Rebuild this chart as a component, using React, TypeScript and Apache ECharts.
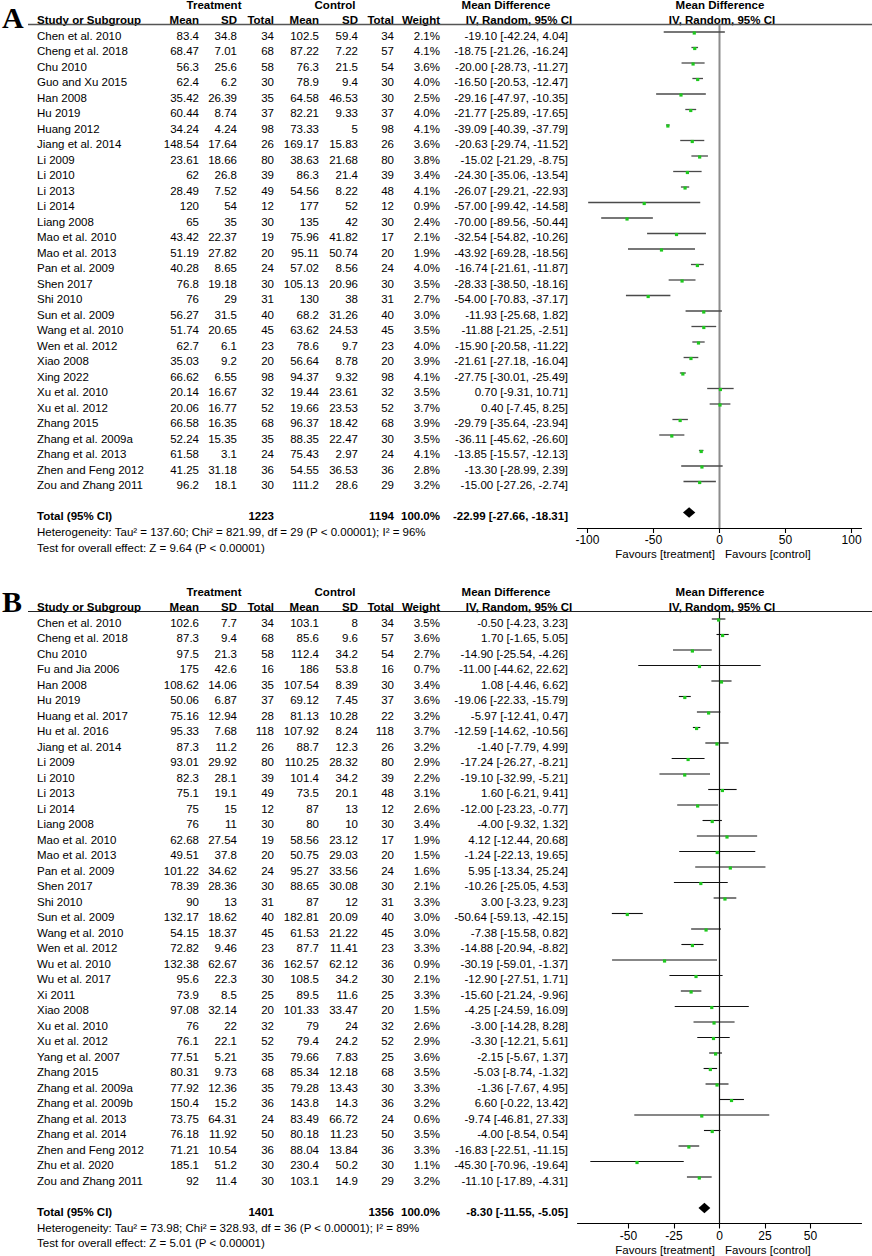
import React, { useEffect, useRef } from "react";
import * as echarts from "echarts";

// ---------------- Panel A data ----------------
const studiesA = [
  "Chen et al. 2010", "Cheng et al. 2018", "Chu 2010", "Guo and Xu 2015", "Han 2008", "Hu 2019",
  "Huang 2012", "Jiang et al. 2014", "Li 2009", "Li 2010", "Li 2013", "Li 2014", "Liang 2008",
  "Mao et al. 2010", "Mao et al. 2013", "Pan et al. 2009", "Shen 2017", "Shi 2010", "Sun et al. 2009",
  "Wang et al. 2010", "Wen et al. 2012", "Xiao 2008", "Xing 2022", "Xu et al. 2010", "Xu et al. 2012",
  "Zhang 2015", "Zhang et al. 2009a", "Zhang et al. 2013", "Zhen and Feng 2012", "Zou and Zhang 2011",
];
const tMeanA = [83.4, 68.47, 56.3, 62.4, 35.42, 60.44, 34.24, 148.54, 23.61, 62, 28.49, 120, 65, 43.42, 51.19, 40.28, 76.8, 76, 56.27, 51.74, 62.7, 35.03, 66.62, 20.14, 20.06, 66.58, 52.24, 61.58, 41.25, 96.2];
const tSdA = [34.8, 7.01, 25.6, 6.2, 26.39, 8.74, 4.24, 17.64, 18.66, 26.8, 7.52, 54, 35, 22.37, 27.82, 8.65, 19.18, 29, 31.5, 20.65, 6.1, 9.2, 6.55, 16.67, 16.77, 16.35, 15.35, 3.1, 31.18, 18.1];
const tNA = [34, 68, 58, 30, 35, 37, 98, 26, 80, 39, 49, 12, 30, 19, 20, 24, 30, 31, 40, 45, 23, 20, 98, 32, 52, 68, 35, 24, 36, 30];
const cMeanA = [102.5, 87.22, 76.3, 78.9, 64.58, 82.21, 73.33, 169.17, 38.63, 86.3, 54.56, 177, 135, 75.96, 95.11, 57.02, 105.13, 130, 68.2, 63.62, 78.6, 56.64, 94.37, 19.44, 19.66, 96.37, 88.35, 75.43, 54.55, 111.2];
const cSdA = [59.4, 7.22, 21.5, 9.4, 46.53, 9.33, 5, 15.83, 21.68, 21.4, 8.22, 52, 42, 41.82, 50.74, 8.56, 20.96, 38, 31.26, 24.53, 9.7, 8.78, 9.32, 23.61, 23.53, 18.42, 22.47, 2.97, 36.53, 28.6];
const cNA = [34, 57, 54, 30, 30, 37, 98, 26, 80, 39, 48, 12, 30, 17, 20, 24, 30, 31, 40, 45, 23, 20, 98, 32, 52, 68, 30, 24, 36, 29];
const weightA = [2.1, 4.1, 3.6, 4.0, 2.5, 4.0, 4.1, 3.6, 3.8, 3.4, 4.1, 0.9, 2.4, 2.1, 1.9, 4.0, 3.5, 2.7, 3.0, 3.5, 4.0, 3.9, 4.1, 3.5, 3.7, 3.9, 3.5, 4.1, 2.8, 3.2];
const mdA = [-19.1, -18.75, -20.0, -16.5, -29.16, -21.77, -39.09, -20.63, -15.02, -24.3, -26.07, -57.0, -70.0, -32.54, -43.92, -16.74, -28.33, -54.0, -11.93, -11.88, -15.9, -21.61, -27.75, 0.7, 0.4, -29.79, -36.11, -13.85, -13.3, -15.0];
const loA = [-42.24, -21.26, -28.73, -20.53, -47.97, -25.89, -40.39, -29.74, -21.29, -35.06, -29.21, -99.42, -89.56, -54.82, -69.28, -21.61, -38.5, -70.83, -25.68, -21.25, -20.58, -27.18, -30.01, -9.31, -7.45, -35.64, -45.62, -15.57, -28.99, -27.26];
const hiA = [4.04, -16.24, -11.27, -12.47, -10.35, -17.65, -37.79, -11.52, -8.75, -13.54, -22.93, -14.58, -50.44, -10.26, -18.56, -11.87, -18.16, -37.17, 1.82, -2.51, -11.22, -16.04, -25.49, 10.71, 8.25, -23.94, -26.6, -12.13, 2.39, -2.74];
const totalA = [1223, 1194, 100.0, -22.99, -27.66, -18.31];
const hetA = "Heterogeneity: Tau\u00b2 = 137.60; Chi\u00b2 = 821.99, df = 29 (P < 0.00001); I\u00b2 = 96%";
const testA = "Test for overall effect: Z = 9.64 (P < 0.00001)";
const ticksA = [-100, -50, 0, 50, 100];

// ---------------- Panel B data ----------------
const studiesB = [
  "Chen et al. 2010", "Cheng et al. 2018", "Chu 2010", "Fu and Jia 2006", "Han 2008", "Hu 2019",
  "Huang et al. 2017", "Hu et al. 2016", "Jiang et al. 2014", "Li 2009", "Li 2010", "Li 2013", "Li 2014",
  "Liang 2008", "Mao et al. 2010", "Mao et al. 2013", "Pan et al. 2009", "Shen 2017", "Shi 2010",
  "Sun et al. 2009", "Wang et al. 2010", "Wen et al. 2012", "Wu et al. 2010", "Wu et al. 2017", "Xi 2011",
  "Xiao 2008", "Xu et al. 2010", "Xu et al. 2012", "Yang et al. 2007", "Zhang 2015", "Zhang et al. 2009a",
  "Zhang et al. 2009b", "Zhang et al. 2013", "Zhang et al. 2014", "Zhen and Feng 2012", "Zhu et al. 2020",
  "Zou and Zhang 2011",
];
const tMeanB = [102.6, 87.3, 97.5, 175, 108.62, 50.06, 75.16, 95.33, 87.3, 93.01, 82.3, 75.1, 75, 76, 62.68, 49.51, 101.22, 78.39, 90, 132.17, 54.15, 72.82, 132.38, 95.6, 73.9, 97.08, 76, 76.1, 77.51, 80.31, 77.92, 150.4, 73.75, 76.18, 71.21, 185.1, 92];
const tSdB = [7.7, 9.4, 21.3, 42.6, 14.06, 6.87, 12.94, 7.68, 11.2, 29.92, 28.1, 19.1, 15, 11, 27.54, 37.8, 34.62, 28.36, 13, 18.62, 18.37, 9.46, 62.67, 22.3, 8.5, 32.14, 22, 22.1, 5.21, 9.73, 12.36, 15.2, 64.31, 11.92, 10.54, 51.2, 11.4];
const tNB = [34, 68, 58, 16, 35, 37, 28, 118, 26, 80, 39, 49, 12, 30, 19, 20, 24, 30, 31, 40, 45, 23, 36, 30, 25, 20, 32, 52, 35, 68, 35, 36, 24, 50, 36, 30, 30];
const cMeanB = [103.1, 85.6, 112.4, 186, 107.54, 69.12, 81.13, 107.92, 88.7, 110.25, 101.4, 73.5, 87, 80, 58.56, 50.75, 95.27, 88.65, 87, 182.81, 61.53, 87.7, 162.57, 108.5, 89.5, 101.33, 79, 79.4, 79.66, 85.34, 79.28, 143.8, 83.49, 80.18, 88.04, 230.4, 103.1];
const cSdB = [8, 9.6, 34.2, 53.8, 8.39, 7.45, 10.28, 8.24, 12.3, 28.32, 34.2, 20.1, 13, 10, 23.12, 29.03, 33.56, 30.08, 12, 20.09, 21.22, 11.41, 62.12, 34.2, 11.6, 33.47, 24, 24.2, 7.83, 12.18, 13.43, 14.3, 66.72, 11.23, 13.84, 50.2, 14.9];
const cNB = [34, 57, 54, 16, 30, 37, 22, 118, 26, 80, 39, 48, 12, 30, 17, 20, 24, 30, 31, 40, 45, 23, 36, 30, 25, 20, 32, 52, 25, 68, 30, 36, 24, 50, 36, 30, 29];
const weightB = [3.5, 3.6, 2.7, 0.7, 3.4, 3.6, 3.2, 3.7, 3.2, 2.9, 2.2, 3.1, 2.6, 3.4, 1.9, 1.5, 1.6, 2.1, 3.3, 3.0, 3.0, 3.3, 0.9, 2.1, 3.3, 1.5, 2.6, 2.9, 3.6, 3.5, 3.3, 3.2, 0.6, 3.5, 3.3, 1.1, 3.2];
const mdB = [-0.5, 1.7, -14.9, -11.0, 1.08, -19.06, -5.97, -12.59, -1.4, -17.24, -19.1, 1.6, -12.0, -4.0, 4.12, -1.24, 5.95, -10.26, 3.0, -50.64, -7.38, -14.88, -30.19, -12.9, -15.6, -4.25, -3.0, -3.3, -2.15, -5.03, -1.36, 6.6, -9.74, -4.0, -16.83, -45.3, -11.1];
const loB = [-4.23, -1.65, -25.54, -44.62, -4.46, -22.33, -12.41, -14.62, -7.79, -26.27, -32.99, -6.21, -23.23, -9.32, -12.44, -22.13, -13.34, -25.05, -3.23, -59.13, -15.58, -20.94, -59.01, -27.51, -21.24, -24.59, -14.28, -12.21, -5.67, -8.74, -7.67, -0.22, -46.81, -8.54, -22.51, -70.96, -17.89];
const hiB = [3.23, 5.05, -4.26, 22.62, 6.62, -15.79, 0.47, -10.56, 4.99, -8.21, -5.21, 9.41, -0.77, 1.32, 20.68, 19.65, 25.24, 4.53, 9.23, -42.15, 0.82, -8.82, -1.37, 1.71, -9.96, 16.09, 8.28, 5.61, 1.37, -1.32, 4.95, 13.42, 27.33, 0.54, -11.15, -19.64, -4.31];
const totalB = [1401, 1356, 100.0, -8.3, -11.55, -5.05];
const hetB = "Heterogeneity: Tau\u00b2 = 73.98; Chi\u00b2 = 328.93, df = 36 (P < 0.00001); I\u00b2 = 89%";
const testB = "Test for overall effect: Z = 5.01 (P < 0.00001)";
const ticksB = [-50, -25, 0, 25, 50];

// ---------------- Layout / styles ----------------
const STEP = 15.5;
const FONT = '"Liberation Sans", Arial, sans-serif';
const SIZE = 11.5;
const COL_RIGHT = [199, 237, 274, 319, 358, 394, 440, 568];
const PLOT_LEFT = 577.5;
const PLOT_WIDTH = 284;

const panels = [
  {
    letter: "A", letterY: 17, y0: 35.5, studies: studiesA, tMean: tMeanA, tSd: tSdA, tN: tNA, cMean: cMeanA, cSd: cSdA, cN: cNA,
    weight: weightA, md: mdA, lo: loA, hi: hiA, total: totalA, het: hetA, test: testA, ticks: ticksA,
    xMin: -107.5, xMax: 107.5, zeroColor: "#8c8c8c", zeroWidth: 2, ciColor: "#4a4a4a", ciWidth: 1.3, ruleColor: "#555", ruleWidth: 1.4,
  },
  {
    letter: "B", letterY: 601, y0: 622.5, studies: studiesB, tMean: tMeanB, tSd: tSdB, tN: tNB, cMean: cMeanB, cSd: cSdB, cN: cNB,
    weight: weightB, md: mdB, lo: loB, hi: hiB, total: totalB, het: hetB, test: testB, ticks: ticksB,
    xMin: -78, xMax: 78, zeroColor: "#111", zeroWidth: 1.2, ciColor: "#111", ciWidth: 1.1, ruleColor: "#222", ruleWidth: 1.1,
  },
];

const fmtCI = (m: number, l: number, h: number) => `${m.toFixed(2)} [${l.toFixed(2)}, ${h.toFixed(2)}]`;

function txt(x: number, y: number, text: string, align: string, bold = false, size = SIZE, family = FONT) {
  return {
    type: "text",
    x,
    y,
    silent: true,
    style: {
      text,
      fill: "#000",
      font: `${bold ? "bold " : ""}${size}px ${family}`,
      textAlign: align,
      textVerticalAlign: "middle",
    },
  };
}

export default function App() {
  const ref = useRef<HTMLDivElement>(null);

  useEffect(() => {
    document.body.style.margin = "0";
    document.body.style.background = "#fff";
    const chart = echarts.init(ref.current!, null, { renderer: "svg" });

    const graphics: any[] = [];
    const grids: any[] = [];
    const xAxes: any[] = [];
    const yAxes: any[] = [];
    const series: any[] = [];

    panels.forEach((p, k) => {
      const n = p.studies.length;
      const y0 = p.y0;
      const totalY = y0 + STEP * (n + 1);
      const ruleY = y0 - 11;
      const axisY = totalY + 12;

      // Letter
      graphics.push(txt(2, p.letterY, p.letter, "left", true, 30, '"Liberation Serif", "Times New Roman", serif'));
      // Header rows
      const h1 = y0 - 30.5;
      const h2 = y0 - 15.5;
      graphics.push(txt(214, h1, "Treatment", "center", true));
      graphics.push(txt(335, h1, "Control", "center", true));
      graphics.push(txt(506, h1, "Mean Difference", "center", true));
      graphics.push(txt(720, h1, "Mean Difference", "center", true));
      graphics.push(txt(37, h2, "Study or Subgroup", "left", true));
      const hdr = ["Mean", "SD", "Total", "Mean", "SD", "Total", "Weight"];
      hdr.forEach((h, j) => graphics.push(txt(COL_RIGHT[j], h2, h, "right", true)));
      graphics.push(txt(519, h2, "IV, Random, 95% CI", "center", true));
      graphics.push(txt(722, h2, "IV, Random, 95% CI", "center", true));
      // Rule
      graphics.push({
        type: "line",
        silent: true,
        shape: { x1: 28, y1: ruleY, x2: 872, y2: ruleY },
        style: { stroke: p.ruleColor, lineWidth: p.ruleWidth },
      });

      // Study rows
      p.studies.forEach((s, i) => {
        const y = y0 + STEP * i;
        graphics.push(txt(37, y, s, "left"));
        const vals = [
          String(p.tMean[i]), String(p.tSd[i]), String(p.tN[i]),
          String(p.cMean[i]), String(p.cSd[i]), String(p.cN[i]),
          p.weight[i].toFixed(1) + "%", fmtCI(p.md[i], p.lo[i], p.hi[i]),
        ];
        vals.forEach((v, j) => graphics.push(txt(COL_RIGHT[j], y, v, "right")));
      });

      // Total row
      const t = p.total;
      graphics.push(txt(37, totalY, "Total (95% CI)", "left", true));
      graphics.push(txt(COL_RIGHT[2], totalY, String(t[0]), "right", true));
      graphics.push(txt(COL_RIGHT[5], totalY, String(t[1]), "right", true));
      graphics.push(txt(COL_RIGHT[6], totalY, t[2].toFixed(1) + "%", "right", true));
      graphics.push(txt(COL_RIGHT[7], totalY, fmtCI(t[3], t[4], t[5]), "right", true));
      graphics.push(txt(37, totalY + 16, p.het, "left"));
      graphics.push(txt(37, totalY + 31.5, p.test, "left"));

      // Favours labels
      graphics.push(txt(715, axisY + 26, "Favours [treatment]", "right", false, 11.5));
      graphics.push(txt(725, axisY + 26, "Favours [control]", "left", false, 11.5));

      // Grid / axes
      const yMin = (ruleY - y0) / STEP;
      const yMax = (axisY - y0) / STEP;
      grids.push({ left: PLOT_LEFT, width: PLOT_WIDTH, top: ruleY, height: axisY - ruleY, containLabel: false });
      xAxes.push({
        type: "value",
        gridIndex: k,
        min: p.xMin,
        max: p.xMax,
        axisLine: { show: true, onZero: false, lineStyle: { color: "#000", width: 1.1 } },
        axisTick: { show: true, customValues: p.ticks, length: 5, lineStyle: { color: "#000", width: 1.1 } },
        axisLabel: { show: true, customValues: p.ticks, color: "#000", fontSize: 12, fontFamily: FONT, margin: 6 },
        splitLine: { show: false },
      });
      yAxes.push({ type: "value", gridIndex: k, min: yMin, max: yMax, inverse: true, show: false });

      // zero line
      series.push({
        type: "custom",
        xAxisIndex: k,
        yAxisIndex: k,
        clip: false,
        silent: true,
        encode: { x: 0, y: 1 },
        data: [[0, yMin, yMax]],
        renderItem: (params: any, api: any) => {
          const a = api.coord([api.value(0), api.value(1)]);
          const b = api.coord([api.value(0), api.value(2)]);
          return {
            type: "line",
            shape: { x1: a[0], y1: a[1], x2: b[0], y2: b[1] },
            style: { stroke: p.zeroColor, lineWidth: p.zeroWidth },
          };
        },
      });

      // CI lines with green squares
      series.push({
        type: "custom",
        xAxisIndex: k,
        yAxisIndex: k,
        clip: false,
        silent: true,
        encode: { x: [0, 1, 2], y: 3 },
        data: p.studies.map((_, i) => [p.md[i], p.lo[i], p.hi[i], i]),
        renderItem: (params: any, api: any) => {
          const r = api.value(3);
          const c = api.coord([api.value(0), r]);
          const l = api.coord([api.value(1), r]);
          const h = api.coord([api.value(2), r]);
          const yy = c[1] - 3.5;
          return {
            type: "group",
            children: [
              { type: "line", shape: { x1: l[0], y1: yy, x2: h[0], y2: yy }, style: { stroke: p.ciColor, lineWidth: p.ciWidth } },
              { type: "rect", shape: { x: c[0] - 1.6, y: yy - 0.6, width: 3.2, height: 3.2 }, style: { fill: "#1ec81e" } },
            ],
          };
        },
      });

      // Diamond
      series.push({
        type: "custom",
        xAxisIndex: k,
        yAxisIndex: k,
        clip: false,
        silent: true,
        encode: { x: [0, 1, 2], y: 3 },
        data: [[t[3], t[4], t[5], n + 1]],
        renderItem: (params: any, api: any) => {
          const r = api.value(3);
          const c = api.coord([api.value(0), r]);
          const l = api.coord([api.value(1), r]);
          const h = api.coord([api.value(2), r]);
          const yy = c[1] - 3.5;
          return {
            type: "polygon",
            shape: { points: [[l[0], yy], [c[0], yy - 5.2], [h[0], yy], [c[0], yy + 5.2]] },
            style: { fill: "#000" },
          };
        },
      });
    });

    chart.setOption({
      animation: false,
      backgroundColor: "#fff",
      grid: grids,
      xAxis: xAxes,
      yAxis: yAxes,
      series,
      graphic: { elements: graphics },
    });

    return () => chart.dispose();
  }, []);

  return <div ref={ref} style={{ width: 872, height: 1256 }} />;
}
